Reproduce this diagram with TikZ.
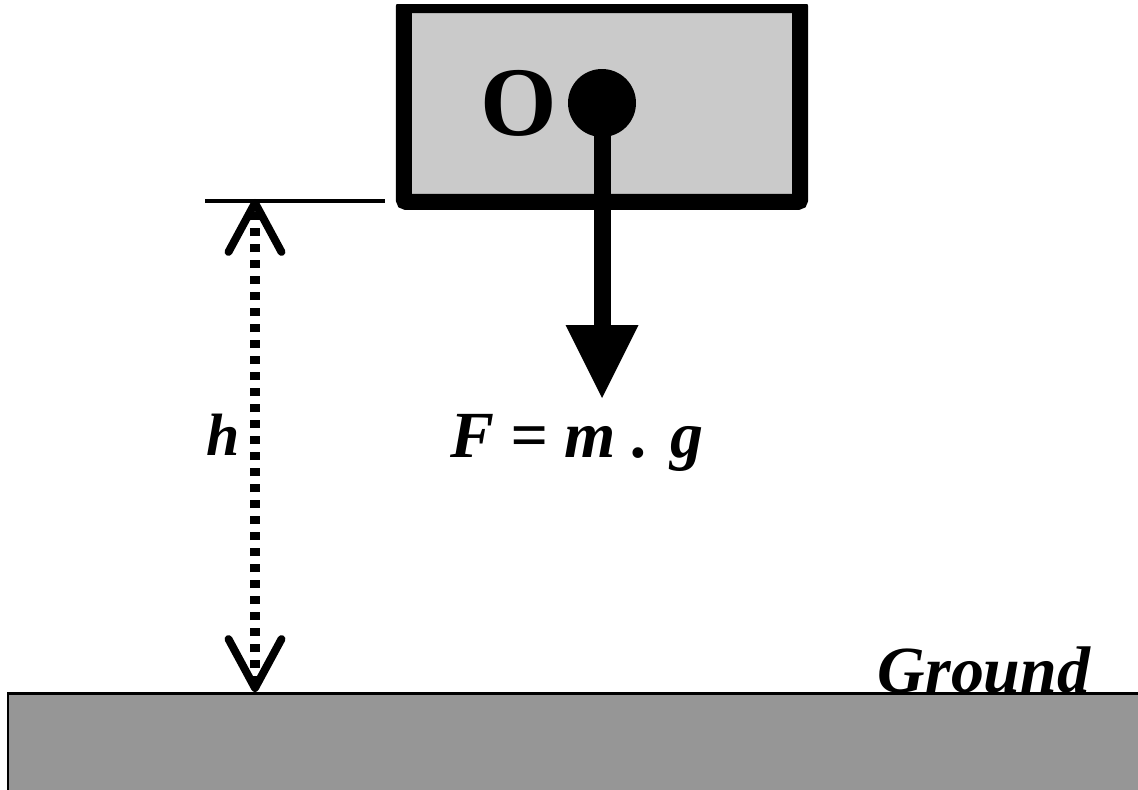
\documentclass[tikz,border=0pt]{standalone}
\usepackage{fontspec}
\setmainfont{Liberation Serif}
\usetikzlibrary{arrows.meta,positioning}
\definecolor{blockgray}{HTML}{CACACA}
\definecolor{groundgray}{HTML}{969696}

\begin{document}
\begin{tikzpicture}[
x=0.02cm, y=-0.02cm,
every node/.style={inner sep=0},
label/.style={font=\bfseries\itshape\fontsize{37.5}{40}\selectfont},
block/.style={draw, fill=blockgray, line width=0.32cm, rounded corners=1.5pt, minimum width=7.93cm, minimum height=3.94cm},
point/.style={circle, fill, minimum size=1.36cm},
force/.style={-{Triangle[width=1.46cm, length=1.46cm, line width=0pt]}, line width=0.34cm},
barb/.style={Straight Barb[length=0.98cm, width=1.06cm, line width=4.5pt, round]},
dimline/.style={{Straight Barb[length=0.98cm, width=1.06cm, line width=4.5pt, round]}-{Straight Barb[length=0.98cm, width=1.06cm, line width=4.5pt, round]}, line width=0.2cm, dash pattern=on 0.16cm off 0.16cm},
ground/.style={draw, fill=groundgray, line width=1.7pt}
]
\useasboundingbox (0,0) rectangle (1138,790);
\clip (0,5) rectangle (1138,790);

\draw[ground] (8,693) rectangle (1160,820);

\node[block] (mass) at (602,103.5) {};

\node[point] (cm) at (602,103) {};

\node (origin) [left=0.2cm of cm, font=\bfseries\fontsize{56}{60}\selectfont] {O};

\coordinate (tip) at (602,398);

\node[label, anchor=base] (force label) at (577,457) {F = m . g};

\node[label, anchor=base, font=\bfseries\itshape\fontsize{34}{36}\selectfont] (height) at (223.5,455) {h};

\node[label, anchor=base] (ground label) at (984,692) {Ground};

\coordinate (level left) at (205,201);
\coordinate (level right) at (385,201);
\coordinate (h top) at (255,199);
\coordinate (h bottom) at (255,692);

\draw[force] (cm.center) -- (tip);
\draw[line width=1.8pt] (level left) -- (level right);
\draw[dimline] (h bottom) -- (h top);

\end{tikzpicture}
\end{document}
